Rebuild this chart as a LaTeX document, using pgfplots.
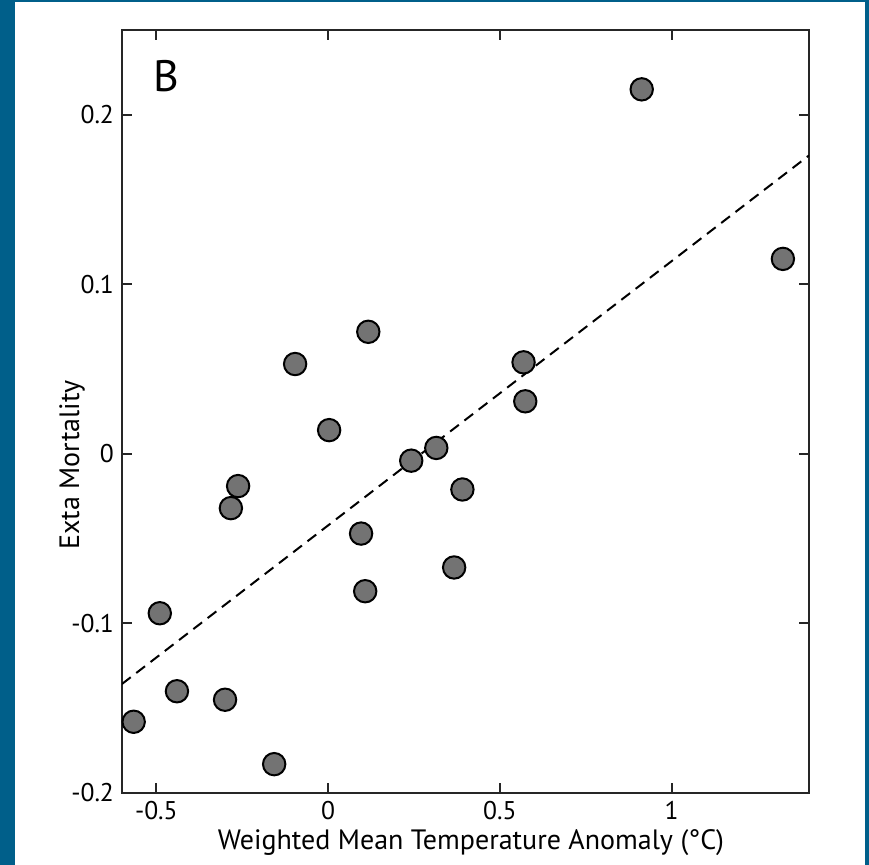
\documentclass[border=0pt]{standalone}
\usepackage{pgfplots}
\pgfplotsset{compat=1.18}
\usepackage{fontspec}
\setmainfont{PT Sans}
\definecolor{bgblue}{RGB}{0,95,138}
\definecolor{dotgray}{RGB}{115,115,115}
\begin{document}
\begin{tikzpicture}
\fill[bgblue] (0,0) rectangle (434.5pt,432.5pt);
\fill[white] (7.5pt,0pt) rectangle (432.5pt,431.5pt);
\begin{axis}[
  at={(61pt,36pt)}, anchor=south west,
  scale only axis, width=343.5pt, height=381.5pt,
  xmin=-0.6, xmax=1.4, ymin=-0.2, ymax=0.25,
  xtick={-0.5,0,0.5,1}, ytick={-0.2,-0.1,0,0.1,0.2},
  xticklabels={-0.5,0,0.5,1}, yticklabels={-0.2,-0.1,0,0.1,0.2},
  tick align=inside, major tick length=5pt,
  axis line style={line width=1pt, black!85},
  every tick/.style={line width=1pt, black!85},
  tick label style={font=\fontsize{12.8}{14}\selectfont},
  xticklabel style={yshift=-0.5pt},
  yticklabel style={xshift=-0.5pt},
  xlabel={Weighted Mean Temperature Anomaly (°C)},
  ylabel={Exta Mortality},
  label style={font=\fontsize{14}{16}\selectfont},
  xlabel style={at={(axis description cs:0.508,-0.0655)}, anchor=center},
  ylabel style={at={(axis description cs:-0.0728,0.43)}, anchor=center},
  clip=true,
]
\addplot[black, line width=1pt, dash pattern=on 5.5pt off 3.5pt] coordinates {(-0.6,-0.1357) (1.4,0.176)};
\addplot[only marks, mark=*, mark size=5.6pt, mark options={fill=dotgray, draw=black, line width=1pt}] coordinates {
(0.913,0.215) (1.324,0.115) (0.117,0.072) (-0.096,0.053) (0.569,0.054)
(0.574,0.031) (0.003,0.014) (0.315,0.0035) (0.242,-0.004) (0.391,-0.021)
(-0.262,-0.019) (-0.283,-0.032) (0.096,-0.047) (0.367,-0.067) (0.108,-0.081)
(-0.490,-0.094) (-0.440,-0.140) (-0.300,-0.145) (-0.566,-0.158) (-0.157,-0.183)
};
\node[font=\fontsize{22}{24}\selectfont, anchor=center] at (axis description cs:0.064,0.94) {B};
\end{axis}
\end{tikzpicture}
\end{document}
